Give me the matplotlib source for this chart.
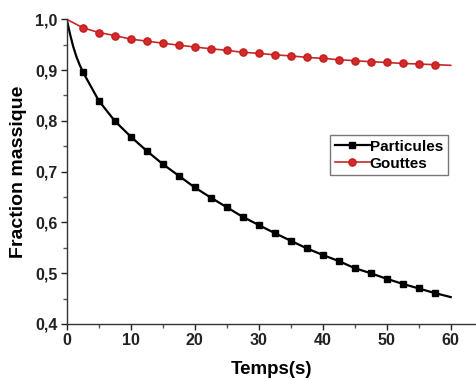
import matplotlib
matplotlib.use("Agg")
import matplotlib.pyplot as plt
from matplotlib.ticker import MultipleLocator, FuncFormatter

# Data
t_part = [0, 0.5, 1.0, 1.5, 2.0, 2.5, 5, 7.5, 10, 12.5, 15, 17.5, 20, 22.5, 25, 27.5, 30,
          32.5, 35, 37.5, 40, 42.5, 45, 47.5, 50, 52.5, 55, 57.5, 60]
particules = [1.0, 0.972, 0.947, 0.927, 0.911, 0.897, 0.840, 0.800, 0.769, 0.741, 0.715,
              0.692, 0.669, 0.649, 0.630, 0.611, 0.595, 0.579, 0.564, 0.549, 0.536,
              0.524, 0.510, 0.500, 0.489, 0.479, 0.470, 0.461, 0.453]
t_gout = [0, 2.5, 5, 7.5, 10, 12.5, 15, 17.5, 20, 22.5, 25, 27.5, 30, 32.5, 35, 37.5,
          40, 42.5, 45, 47.5, 50, 52.5, 55, 57.5, 60]
gouttes = [1.0, 0.9835, 0.974, 0.968, 0.961, 0.957, 0.953, 0.949, 0.9455, 0.942, 0.939,
           0.935, 0.933, 0.930, 0.928, 0.925, 0.923, 0.9205, 0.9185, 0.9165, 0.915,
           0.913, 0.912, 0.9106, 0.9094]

plt.rcParams['font.family'] = ['Liberation Sans', 'DejaVu Sans']
plt.rcParams['font.weight'] = 'bold'

fig = plt.figure(figsize=(4.76, 3.8), dpi=100)
W, H = 476, 380
x0, x1 = 66.7, 476.3
ytop, ybot = 19.3, 324
ax = fig.add_axes([x0 / W, 1 - ybot / H, (x1 - x0) / W, (ybot - ytop) / H])

def marker_idx(ts):
    return [i for i, t in enumerate(ts) if 0 < t < 60 and abs(t / 2.5 - round(t / 2.5)) < 1e-9]

ax.plot(t_part, particules, color='black', lw=1.6, marker='s', markersize=4.4,
        markevery=marker_idx(t_part), label='Particules')
ax.plot(t_gout, gouttes, color='#c8282a', lw=1.2, marker='o', markersize=5.2,
        markerfacecolor='#d42a2a', markeredgecolor='#c02020',
        markevery=marker_idx(t_gout), label='Gouttes')

ax.set_xlim(0, 64)
ax.set_ylim(0.4, 1.0)
ax.xaxis.set_major_locator(MultipleLocator(10))
ax.xaxis.set_minor_locator(MultipleLocator(5))
ax.yaxis.set_major_locator(MultipleLocator(0.1))
ax.yaxis.set_minor_locator(MultipleLocator(0.05))
ax.xaxis.set_major_formatter(FuncFormatter(lambda v, p: f"{v:.0f}" if v <= 60 else ""))
ax.yaxis.set_major_formatter(FuncFormatter(lambda v, p: f"{v:.1f}".replace('.', ',')))

for s in ['top', 'right']:
    ax.spines[s].set_visible(False)
for s in ['left', 'bottom']:
    ax.spines[s].set_linewidth(1.0)
    ax.spines[s].set_color('#333333')

ax.tick_params(axis='both', which='major', direction='out', length=4, width=1,
               labelsize=11.5, pad=2.5, colors='#222222')
ax.tick_params(axis='both', which='minor', direction='out', length=3, width=1, colors='#555555')
for lab in ax.get_xticklabels() + ax.get_yticklabels():
    lab.set_fontweight('bold')

ax.set_xlabel('Temps(s)', fontsize=13.5, fontweight='bold', labelpad=9)
ax.set_ylabel('Fraction massique', fontsize=14, fontweight='bold', labelpad=6)

leg = ax.legend(loc='upper left', bbox_to_anchor=((330 - x0) / (x1 - x0), 1 - (135 - ytop) / (ybot - ytop)),
                fontsize=11, frameon=True, fancybox=False, handlelength=2.3,
                handletextpad=0.0, borderpad=0.3, labelspacing=0.2, borderaxespad=0)
leg.get_frame().set_edgecolor('#555555')
leg.get_frame().set_linewidth(1.0)
for txt in leg.get_texts():
    txt.set_fontweight('bold')

fig.savefig('out.png', dpi=100)
